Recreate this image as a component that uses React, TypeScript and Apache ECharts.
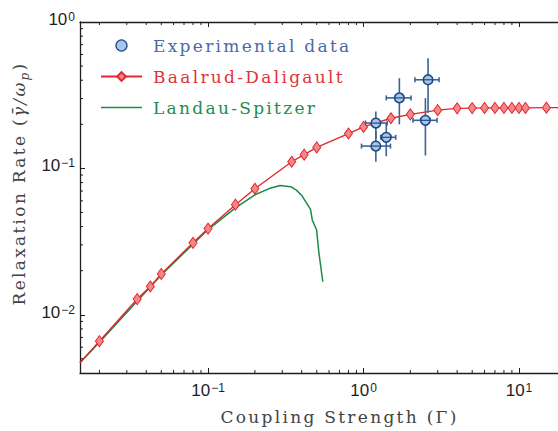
import React, { useEffect, useRef } from 'react';
import * as echarts from 'echarts';

// ---- axis ranges ----
const X_MIN = 0.015;
const X_MAX = 32.7;
const Y_MIN = 0.004;
const Y_MAX = 1;

// ---- Baalrud-Daligault (first and last points carry no marker) ----
const BD_X = [0.015, 0.02, 0.035, 0.0425, 0.05, 0.08, 0.1, 0.15, 0.2, 0.345, 0.415, 0.5, 0.8, 1, 1.5, 2, 3, 4, 5, 6, 7, 8, 9, 10, 11, 15, 20];
const BD_Y = [0.0047, 0.0066, 0.0128, 0.0156, 0.019, 0.031, 0.0388, 0.0565, 0.0726, 0.111, 0.124, 0.139, 0.173, 0.192, 0.22, 0.234, 0.25, 0.257, 0.258, 0.259, 0.259, 0.259, 0.259, 0.259, 0.259, 0.26, 0.26];

// ---- Landau-Spitzer ----
const LS_X = [0.015, 0.02, 0.05, 0.1, 0.15, 0.2, 0.245, 0.29, 0.34, 0.37, 0.403, 0.456, 0.468, 0.499, 0.516, 0.547];
const LS_Y = [0.0047, 0.0065, 0.0187, 0.0382, 0.0537, 0.066, 0.0725, 0.0763, 0.075, 0.071, 0.0647, 0.0525, 0.0444, 0.0379, 0.0266, 0.0168];

// ---- Experimental data with error bars ----
const EXP_X = [1.2, 1.4, 1.2, 1.7, 2.6, 2.5];
const EXP_Y = [0.204, 0.163, 0.142, 0.303, 0.403, 0.213];
const EXP_X_LO = [1.03, 1.29, 0.97, 1.4, 2.14, 2.08];
const EXP_X_HI = [1.42, 1.61, 1.49, 2.02, 3.06, 2.97];
const EXP_Y_LO = [0.16, 0.121, 0.111, 0.2, 0.24, 0.1225];
const EXP_Y_HI = [0.245, 0.204, 0.18, 0.413, 0.566, 0.302];

// ---- minor tick values ----
const MINOR_X = [0.02, 0.03, 0.04, 0.05, 0.06, 0.07, 0.08, 0.09, 0.2, 0.3, 0.4, 0.5, 0.6, 0.7, 0.8, 0.9, 2, 3, 4, 5, 6, 7, 8, 9, 20, 30];
const MINOR_Y = [0.005, 0.006, 0.007, 0.008, 0.009, 0.02, 0.03, 0.04, 0.05, 0.06, 0.07, 0.08, 0.09, 0.2, 0.3, 0.4, 0.5, 0.6, 0.7, 0.8, 0.9];

const SERIF = 'DejaVu Serif';
const SANS = 'Liberation Sans';
const SPACING = 2.3;

const AXIS_COLOR = '#1e1e1e';
const RED_LINE = '#e3262e';
const RED_FILL = '#f28888';
const GREEN = '#1b8a48';
const EXP_FILL = '#a9c6ea';
const EXP_EDGE = '#1f4a85';
const EXP_BAR = '#3d6298';

let platformSet = false;
function setupMeasure() {
  if (platformSet) return;
  platformSet = true;
  const api: any = (echarts as any).setPlatformAPI;
  if (!api) return;
  const cvs = document.createElement('canvas');
  const ctx = cvs.getContext('2d') as CanvasRenderingContext2D;
  api({
    measureText(text: string, font?: string) {
      ctx.font = font || '12px sans-serif';
      let w = ctx.measureText(text).width;
      if (font && font.indexOf(SERIF) >= 0 && text !== '国') {
        const n = Array.from(text.replace(/[\u0300-\u036f]/g, '')).length;
        w += n * SPACING;
      }
      return { width: w };
    },
  });
}
setupMeasure();

function isPow10(v: number) {
  const l = Math.log10(v);
  return Math.abs(l - Math.round(l)) < 1e-6;
}

const tickFormatter = (v: number) => {
  if (!isPow10(v)) return '';
  const e = Math.round(Math.log10(v));
  const s = e < 0 ? '\u2212' + String(-e) : String(e);
  return '{b|10}{s|' + s + '}';
};

const tickRich = {
  b: { fontFamily: SANS, fontSize: 17, lineHeight: 17, verticalAlign: 'bottom', color: AXIS_COLOR },
  s: { fontFamily: SANS, fontSize: 12, lineHeight: 12, verticalAlign: 'top', padding: [0, 0, 10, 1], color: AXIS_COLOR },
};

function line(x1: number, y1: number, x2: number, y2: number, style: any) {
  return { type: 'line', shape: { x1, y1, x2, y2 }, style };
}

export default function App() {
  const ref = useRef<HTMLDivElement>(null);

  useEffect(() => {
    if (!ref.current) return;
    const chart = echarts.init(ref.current, undefined, { renderer: 'svg' });

    const bdData = BD_X.map((x, i) => {
      const item: any = { value: [x, BD_Y[i]] };
      if (i === 0 || i === BD_X.length - 1) item.symbol = 'none';
      return item;
    });
    const lsData = LS_X.map((x, i) => [x, LS_Y[i]]);
    const expData = EXP_X.map((x, i) => [x, EXP_Y[i], EXP_X_LO[i], EXP_X_HI[i], EXP_Y_LO[i], EXP_Y_HI[i]]);

    const tickStyle = { stroke: AXIS_COLOR, lineWidth: 1 };

    const option: any = {
      animation: false,
      backgroundColor: '#ffffff',
      textStyle: { fontFamily: SERIF },
      grid: { left: 80, right: -41, top: 22, bottom: 58, containLabel: false, outerBoundsMode: 'none' },
      legend: {
        orient: 'vertical',
        left: 100,
        top: 37,
        padding: 0,
        itemWidth: 41,
        itemHeight: 11,
        itemGap: 14,
        selectedMode: false,
        textStyle: { fontFamily: SERIF, fontSize: 17, padding: [0, 0, 0, 6] },
        data: [
          {
            name: 'Experimental data',
            icon: 'circle',
            itemStyle: { color: EXP_FILL, borderColor: EXP_EDGE, borderWidth: 1.3 },
            textStyle: { color: '#4b6aa8' },
          },
          { name: 'Baalrud-Daligault', textStyle: { color: '#e2333b' } },
          {
            name: 'Landau-Spitzer',
            icon: 'path://M0,0h41v1.5h-41z',
            itemStyle: { color: GREEN, borderWidth: 0 },
            textStyle: { color: '#1d8c4c' },
          },
        ],
      },
      xAxis: [
        {
          type: 'log',
          min: X_MIN,
          max: X_MAX,
          position: 'bottom',
          axisLine: { onZero: false, lineStyle: { color: AXIS_COLOR, width: 1.3 } },
          axisTick: { inside: true, length: 5, lineStyle: { color: AXIS_COLOR, width: 1 } },
          axisLabel: { formatter: tickFormatter, rich: tickRich, margin: 9 },
          splitLine: { show: false },
          name: 'Coupling Strength (\u0393)',
          nameLocation: 'middle',
          nameGap: 28,
          nameTextStyle: { fontFamily: SERIF, fontSize: 17, color: '#444444' },
        },
        {
          type: 'log',
          min: X_MIN,
          max: X_MAX,
          position: 'top',
          axisLine: { onZero: false, lineStyle: { color: AXIS_COLOR, width: 1.3 } },
          axisTick: { inside: true, length: 5, lineStyle: { color: AXIS_COLOR, width: 1 } },
          axisLabel: { show: false },
          splitLine: { show: false },
        },
      ],
      yAxis: {
        type: 'log',
        min: Y_MIN,
        max: Y_MAX,
        axisLine: { onZero: false, lineStyle: { color: AXIS_COLOR, width: 1.3 } },
        axisTick: { inside: true, length: 5, lineStyle: { color: AXIS_COLOR, width: 1 } },
        axisLabel: { formatter: tickFormatter, rich: tickRich, margin: 5, padding: [0, 0, 5, 0] },
        splitLine: { show: false },
        name: '{n|Relaxation Rate (}{i|\u03B3\u0304/\u03C9}{s|p}{n|)}',
        nameLocation: 'middle',
        nameRotate: 90,
        nameGap: 48,
        nameTextStyle: {
          fontFamily: SERIF,
          fontSize: 17,
          color: '#444444',
          padding: [0, 0, 0, 28],
          rich: {
            n: { fontFamily: SERIF, fontSize: 17, lineHeight: 20, verticalAlign: 'top', color: '#444444' },
            i: { fontFamily: SERIF, fontStyle: 'italic', fontSize: 17, lineHeight: 20, verticalAlign: 'top', color: '#444444' },
            s: { fontFamily: SERIF, fontStyle: 'italic', fontSize: 12, lineHeight: 12, padding: [10, 0, 0, 0], verticalAlign: 'bottom', color: '#444444' },
          },
        },
      },
      series: [
        {
          name: 'Landau-Spitzer',
          type: 'line',
          data: lsData,
          symbol: 'none',
          smooth: false,
          lineStyle: { color: GREEN, width: 1.5 },
          itemStyle: { color: GREEN },
          z: 2,
        },
        {
          name: 'Baalrud-Daligault',
          type: 'line',
          data: bdData,
          symbol: 'diamond',
          symbolSize: [8, 11],
          showAllSymbol: true,
          lineStyle: { color: RED_LINE, width: 1.4 },
          itemStyle: { color: RED_FILL, borderColor: RED_LINE, borderWidth: 1 },
          z: 3,
        },
        {
          name: 'Experimental data',
          type: 'custom',
          data: expData,
          encode: { x: 0, y: 1 },
          itemStyle: { color: EXP_FILL, borderColor: EXP_EDGE, borderWidth: 1.3 },
          z: 4,
          renderItem: (_p: any, api: any) => {
            const x = api.value(0);
            const y = api.value(1);
            const c = api.coord([x, y]);
            const l = api.coord([api.value(2), y]);
            const h = api.coord([api.value(3), y]);
            const b = api.coord([x, api.value(4)]);
            const t = api.coord([x, api.value(5)]);
            const r = 4.8;
            const bar = { stroke: EXP_BAR, lineWidth: 1.6 };
            return {
              type: 'group',
              children: [
                line(l[0], c[1], h[0], c[1], bar),
                line(l[0], c[1] - 2.5, l[0], c[1] + 2.5, bar),
                line(h[0], c[1] - 2.5, h[0], c[1] + 2.5, bar),
                line(c[0], t[1], c[0], b[1], bar),
                { type: 'circle', shape: { cx: c[0], cy: c[1], r }, style: { fill: EXP_FILL, stroke: EXP_EDGE, lineWidth: 1.6 } },
                line(c[0] - r, c[1], c[0] + r, c[1], { stroke: EXP_EDGE, lineWidth: 1.2 }),
              ],
            };
          },
        },
        {
          type: 'custom',
          silent: true,
          data: MINOR_X.map((v) => [v, Y_MIN]),
          encode: { x: 0, y: 1 },
          z: 5,
          renderItem: (_p: any, api: any) => {
            const v = api.value(0);
            const pb = api.coord([v, Y_MIN]);
            const pt = api.coord([v, Y_MAX]);
            return {
              type: 'group',
              children: [line(pb[0], pb[1], pb[0], pb[1] - 3, tickStyle), line(pt[0], pt[1], pt[0], pt[1] + 3, tickStyle)],
            };
          },
        },
        {
          type: 'custom',
          silent: true,
          data: MINOR_Y.map((v) => [X_MIN, v]),
          encode: { x: 0, y: 1 },
          z: 5,
          renderItem: (_p: any, api: any) => {
            const v = api.value(1);
            const pl = api.coord([X_MIN, v]);
            return { type: 'group', children: [line(pl[0], pl[1], pl[0] + 3, pl[1], tickStyle)] };
          },
        },
      ],
    };

    chart.setOption(option);
    return () => {
      chart.dispose();
    };
  }, []);

  return (
    <>
      <style>{`#chartbox text[style*="${SERIF}"]{letter-spacing:${SPACING}px;}`}</style>
      <div
        id="chartbox"
        ref={ref}
        style={{ position: 'fixed', left: 0, top: 0, width: 558, height: 431, background: '#fff' }}
      />
    </>
  );
}
